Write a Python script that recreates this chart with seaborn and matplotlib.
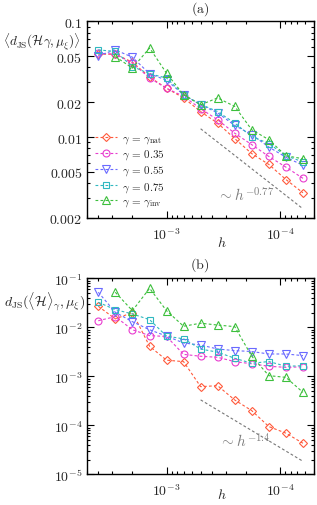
import matplotlib
matplotlib.use('Agg')
import matplotlib.pyplot as plt
import seaborn as sns
import numpy as np

# step sizes h (shared by both panels)
h = [4e-3, 2.83e-3, 2e-3, 1.41e-3, 1e-3, 7.07e-4, 5e-4, 3.54e-4,
     2.5e-4, 1.77e-4, 1.25e-4, 8.84e-5, 6.25e-5]
h_inv = h[1:]  # gamma_inv series starts at the second step

# panel (a): <d_JS(H gamma, mu_xi)>
a_nat = [0.052, 0.052, 0.0444, 0.033, 0.0264, 0.0218, 0.0166, 0.0132, 0.0097, 0.0072, 0.0058, 0.0043, 0.0033]
a_035 = [0.053, 0.052, 0.0435, 0.0324, 0.0264, 0.0225, 0.0176, 0.0141, 0.0108, 0.0086, 0.0068, 0.0055, 0.0044]
a_055 = [0.0506, 0.0566, 0.049, 0.0352, 0.031, 0.0232, 0.019, 0.0162, 0.0126, 0.0105, 0.0082, 0.0067, 0.0057]
a_075 = [0.0566, 0.055, 0.0407, 0.0352, 0.0324, 0.0232, 0.0192, 0.0166, 0.0132, 0.0101, 0.0088, 0.0069, 0.0061]
a_inv = [0.0496, 0.0394, 0.0589, 0.0356, 0.0232, 0.019, 0.0218, 0.0184, 0.01156, 0.0095, 0.0069, 0.0065]

# panel (b): d_JS(<H>_gamma, mu_xi)
b_nat = [0.0268, 0.0148, 0.020, 0.0041, 0.00213, 0.00199, 0.000614, 0.000643, 0.000328, 0.000199, 9.4e-5, 6.9e-5, 4.3e-5]
b_035 = [0.0136, 0.0165, 0.0089, 0.00675, 0.0065, 0.0028, 0.00256, 0.00244, 0.00199, 0.0018, 0.0016, 0.00152, 0.00156]
b_055 = [0.0518, 0.0202, 0.013, 0.0089, 0.0066, 0.00478, 0.00435, 0.0036, 0.00334, 0.0032, 0.00285, 0.00285, 0.00264]
b_075 = [0.0323, 0.0229, 0.0187, 0.0143, 0.0066, 0.0058, 0.0036, 0.0031, 0.00233, 0.00184, 0.002, 0.0016, 0.00164]
b_inv = [0.0518, 0.0218, 0.0625, 0.0218, 0.0105, 0.0121, 0.0111, 0.0103, 0.00256, 0.00103, 0.00095, 0.00047]

# guide lines (end points)
ref_h = [5e-4, 6.25e-5]
ref_a = [0.0118, 0.0024]
ref_b = [3.3e-4, 1.84e-5]

labels = [r'$\gamma\,=\,\gamma_{\rm nat}$', r'$\gamma\,=\,0.35$', r'$\gamma\,=\,0.55$',
          r'$\gamma\,=\,0.75$', r'$\gamma\,=\,\gamma_{\rm inv}$']
colors = ['#ff5a3c', '#e83ccf', '#6a6aff', '#30b8c0', '#3cbf3c']
markers = ['D', 'o', 'v', 's', '^']
msizes = [4.5, 5, 5.5, 4.8, 5.5]

sns.set_style('ticks')
plt.rcParams['mathtext.fontset'] = 'cm'
plt.rcParams['font.family'] = ['DejaVu Serif']

fig = plt.figure(figsize=(3.17, 5.06), dpi=100)
ax_a = fig.add_axes([0.2754, 0.5672, 0.715, 0.3887])
ax_b = fig.add_axes([0.2754, 0.0607, 0.715, 0.3874])


def draw(ax, series, ref_y, ref_txt, txt_pos):
    for i, ys in enumerate(series):
        xs = h_inv if len(ys) == len(h_inv) else h
        sns.lineplot(x=xs, y=ys, ax=ax, color=colors[i], marker=markers[i],
                     markersize=msizes[i], markerfacecolor='none',
                     markeredgecolor=colors[i], markeredgewidth=0.8,
                     linestyle=(0, (2.5, 2)), linewidth=0.8, label=labels[i],
                     legend=False, sort=False)
    ax.plot(ref_h, ref_y, color='#777777', linestyle=(0, (2.5, 2)), linewidth=0.8)
    ax.text(txt_pos[0], txt_pos[1], ref_txt, transform=ax.transAxes,
            color='#808080', fontsize=11, ha='center', va='center')
    ax.set_xscale('log')
    ax.set_yscale('log')
    ax.set_xlim(5e-3, 5e-5)
    ax.set_xticks([1e-3, 1e-4], [r'$10^{-3}$', r'$10^{-4}$'])
    ax.xaxis.set_minor_formatter(matplotlib.ticker.NullFormatter())
    ax.yaxis.set_minor_formatter(matplotlib.ticker.NullFormatter())
    ax.tick_params(which='both', direction='in', top=True, right=True,
                   labelsize=10, width=0.8, color='black')
    ax.tick_params(axis='x', which='major', pad=6)
    ax.tick_params(which='major', length=5)
    ax.tick_params(which='minor', length=2.5)
    for s in ax.spines.values():
        s.set_linewidth(1.0)
        s.set_color('black')


draw(ax_a, [a_nat, a_035, a_055, a_075, a_inv], ref_a, r'$\sim h^{-0.77}$', (0.70, 0.117))
ax_a.set_ylim(0.002, 0.1)
ax_a.set_yticks([0.002, 0.005, 0.01, 0.02, 0.05, 0.1],
                [r'$0.002$', r'$0.005$', r'$0.01$', r'$0.02$', r'$0.05$', r'$0.1$'])
ax_a.text(-0.2, 0.878, r'$\langle d_{\rm JS}(\mathcal{H}\gamma,\mu_\xi)\rangle$',
          transform=ax_a.transAxes, fontsize=9.5, ha='center', va='baseline')
ax_a.text(0.594, -0.123, r'$h$', transform=ax_a.transAxes,
          fontsize=10, ha='center', va='center')
ax_a.text(0.497, 1.068, r'$\mathrm{(a)}$', transform=ax_a.transAxes,
          fontsize=10, ha='center', va='center')
ax_a.legend(loc='lower left', bbox_to_anchor=(0.035, 0.05), frameon=False,
            fontsize=8, handlelength=2.0, handletextpad=0.4, labelspacing=0.2,
            borderaxespad=0, borderpad=0)

draw(ax_b, [b_nat, b_035, b_055, b_075, b_inv], ref_b, r'$\sim h^{-1.4}$', (0.695, 0.17))
ax_b.set_ylim(1e-5, 1e-1)
ax_b.set_yticks([1e-5, 1e-4, 1e-3, 1e-2, 1e-1],
                [r'$10^{-5}$', r'$10^{-4}$', r'$10^{-3}$', r'$10^{-2}$', r'$10^{-1}$'])
ax_b.text(-0.187, 0.864, r'$d_{\rm JS}(\langle\mathcal{H}\rangle_\gamma,\mu_\xi)$',
          transform=ax_b.transAxes, fontsize=10, ha='center', va='baseline')
ax_b.text(0.594, -0.102, r'$h$', transform=ax_b.transAxes,
          fontsize=10, ha='center', va='center')
ax_b.text(0.497, 1.073, r'$\mathrm{(b)}$', transform=ax_b.transAxes,
          fontsize=10, ha='center', va='center')

fig.savefig('out.png', dpi=100)
